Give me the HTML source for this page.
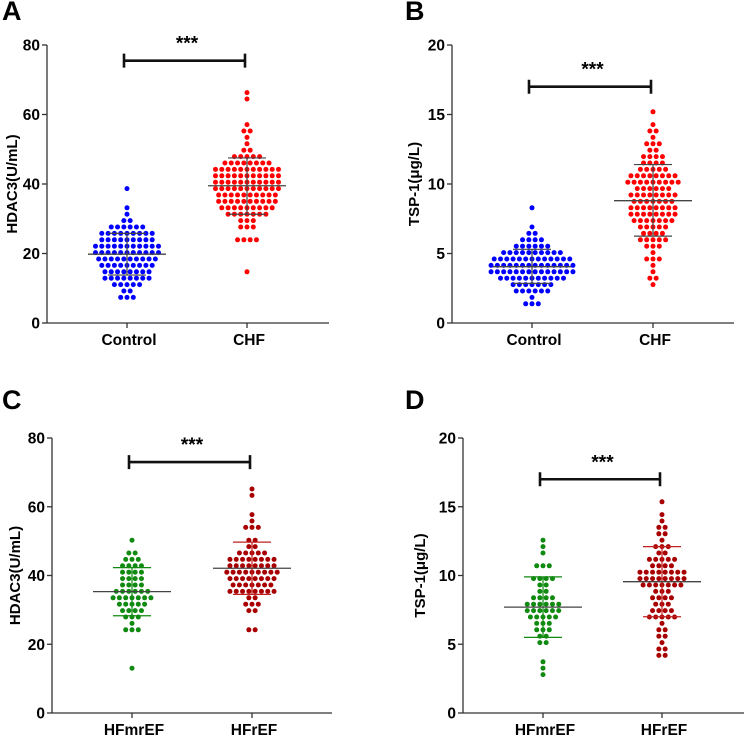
<!DOCTYPE html>
<html><head><meta charset="utf-8">
<style>
html,body{margin:0;padding:0;background:#fff;}
svg{display:block;font-family:"Liberation Sans",Arial,sans-serif;}
</style></head>
<body>
<svg id="fig" width="744" height="736" viewBox="0 0 744 736" xmlns="http://www.w3.org/2000/svg"></svg>
<script>
// ---- data ----
const catsAB = ["Control","CHF"];
const catsCD = ["HFmrEF","HFrEF"];
const ticksHDAC = [0,20,40,60,80];
const ticksTSP = [0,5,10,15,20];
const aControl = [7.2,7.5,7.8,8.3,9.8,10.2,10.5,11,11.3,11.8,12.1,12.4,12.7,13,13.3,13.6,13.9,14.2,14.5,14.8,15.1,15.4,15.7,16,16.3,16.6,16.9,17.2,17.5,17.8,18.1,18.4,18.7,19,19.3,19.6,19.9,20.2,20.5,20.8,21.1,21.4,21.7,22,22.3,22.6,22.9,23.2,23.5,23.8,24.1,24.4,24.7,25,25.3,25.6,25.9,26.2,26.5,26.8,27.1,27.4,28,28.6,29,31.5,32.8,39,15.2,16.1,17,18.2,19.1,20,20.3,21,21.5,22.1,23,24,25.1,26,26.4,27,13.5,14.1,18.8,19.5,20.9,21.9,23.6,24.8,16.5,22.5,27.2,12.8];
const aCHF = [14,23.5,23.5,23.8,24.2,26.8,27.5,28.3,29,29.5,30,30.5,31,31.3,31.6,32,32.3,32.6,33,33.3,33.6,34,34.3,34.6,35,35.3,35.6,35.8,36,36.3,36.6,37,37.3,37.6,38,38.3,38.6,39,39.3,39.6,40,40.3,40.6,41,41.3,41.6,42,42.3,42.6,43,43.3,43.6,44,44.3,44.6,45,45.3,45.6,46,46.3,46.6,47,47.3,47.6,49,49.3,51,54,54.5,55,57.3,64,66,32.5,33.8,35.1,35.4,36.1,36.9,37.4,38.1,38.8,39.1,39.5,40.1,40.5,40.9,41.5,42.1,42.8,43.1,43.9,44.2,45.1,45.8,46.2,47.1,34.1,36.4,38.4,40.2,41.8,43.4,44.8,37.8,39.8,42.4,35.6,33.1,31.8,30.8,46.9,48];
const bControl = [1.5,1.5,1.6,1.9,2.1,2.2,2.35,2.4,2.5,2.6,2.7,2.8,2.85,2.9,3,3.05,3.1,3.2,3.25,3.3,3.35,3.4,3.5,3.55,3.6,3.65,3.7,3.75,3.8,3.85,3.9,3.95,4,4.05,4.1,4.15,4.2,4.25,4.3,4.35,4.4,4.45,4.5,4.55,4.6,4.65,4.7,4.75,4.8,4.85,4.9,4.95,5,5.05,5.1,5.2,5.3,5.4,5.5,5.6,5.8,6,6.1,6.2,6.3,6.5,6.7,8.1,2.9,3.3,3.4,3.8,3.9,4.0,4.1,4.2,4.8,4.9,5.0,5.2,3.6,4.4,4.6,2.6,3.1,4.7,5.4,3.5,4.3,2.4,5.6,4.05,3.75];
const bCHF = [2.9,3.2,3.4,3.5,4.2,4.5,4.8,5,5.3,5.6,5.8,6,6.1,6.3,6.5,6.6,6.8,6.9,7.1,7.2,7.3,7.4,7.5,7.6,7.7,7.8,7.9,8,8.1,8.2,8.3,8.4,8.5,8.6,8.7,8.8,8.9,9,9.1,9.2,9.3,9.4,9.5,9.6,9.7,9.8,9.9,10,10.1,10.2,10.3,10.4,10.5,10.6,10.7,10.8,10.9,11,11.1,11.3,11.5,11.7,11.9,12.1,12.5,12.8,13.1,13.4,13.6,14,14.5,15.3,6.2,6.7,7,7.3,7.5,7.7,7.9,8.1,8.4,8.6,8.9,9.1,9.3,9.6,9.9,10.1,10.3,10.6,11,11.4,11.8,12,12.3,13,5.5,6.4,7.2,8.2,9.4,10.2,10.4,10.8,7.6,9.7,11.2,4.6,5.9,8.8];
const cMr = [13.8,23.3,23.8,24.2,26.8,27.5,28,28.5,29,29.8,30.3,30.8,31.2,31.8,32.2,32.7,33,33.3,33.6,34,34.3,34.8,35.2,35.5,35.8,36.2,36.8,37.3,37.8,38.3,38.8,39.4,39.8,40.3,40.8,41.3,41.8,42.3,42.8,43.4,43.8,44.3,45,45.8,47,49.5,33.1,35.4,31.5,38.1,42.1,29.5];
const cR = [23.5,23.5,29.5,30.3,30.8,31.8,32.5,33.5,34,34.5,35,35.3,35.6,36,36.3,36.6,37,37.3,37.6,38,38.4,38.8,39.2,39.6,40,40.3,40.6,41,41.3,41.6,42,42.3,42.6,43,43.3,43.6,44,44.3,44.6,45,45.3,45.6,46,46.4,46.8,47.2,48,49.3,49.5,51,53.5,54,54.5,55,57.3,64,66,35.8,37.8,39.4,40.2,41.2,42.8,44.1,45.1,38.3,36.8,40.8,43.2,39.8,41.8,34.8,47];
const dMr = [3,3.3,3.5,4.9,5,5.7,5.8,6,6.2,6.4,6.6,6.8,7,7.1,7.2,7.3,7.4,7.5,7.6,7.7,7.8,7.9,8,8.1,8.2,8.4,8.6,8.8,9,9.2,9.5,9.8,9.9,10,10.5,10.6,10.8,11.6,11.9,12.6,7.25,7.55,7.85,6.9,8.3,6.5,5.9,9.85];
const dR = [4.1,4.4,4.6,4.8,5.2,5.5,5.8,6,6.2,6.5,6.8,7,7.2,7.3,7.5,7.6,7.8,8,8.2,8.4,8.6,8.8,9,9.1,9.2,9.3,9.4,9.5,9.6,9.7,9.8,9.9,10,10.1,10.2,10.3,10.4,10.5,10.6,10.8,11,11.2,11.4,11.6,11.8,12,12.3,12.5,12.9,13.2,13.4,13.6,14,14.5,15.3,7.4,8.1,9.05,9.35,9.65,9.95,10.15,10.25,10.45,10.7,11.1,11.3,7.1,8.5,9.25,9.55,10.35,6.9,12.1];
const meansA = [19.8,39.5], lowA = [13.8,31.3], highA = [25.8,47.5];
const meansB = [4.05,8.8], lowB = [2.85,6.25], highB = [5.3,11.4];
const meansC = [35.3,42.1], lowC = [28.3,34.5], highC = [42.3,49.7];
const meansD = [7.7,9.55], lowD = [5.5,7.0], highD = [9.9,12.1];
const sigA = 75.5, sigB = 17, sigC = 73, sigD = 17;

const NS="http://www.w3.org/2000/svg";
const svg=document.getElementById('fig');
function mk(tag,attrs,parent){const e=document.createElementNS(NS,tag);for(const k in attrs)e.setAttribute(k,attrs[k]);(parent||svg).appendChild(e);return e;}

function panel(o){
  const g=mk('g',{});
  
  
  const y=v=>o.y0-(v/o.max)*(o.y0-o.yTop);
  const xs=[o.cx0,o.cx1];
  const L=mk('text',{x:o.lx,y:o.ly,'font-size':27,'font-weight':'bold',fill:'#000'},g);L.textContent=o.letter;
  
  
  const ya=mk('line',{x1:o.ax,y1:o.yTop,x2:o.ax,y2:o.y0,stroke:'#333','stroke-width':1.3},g);
  
  
  const xa=mk('line',{x1:o.ax,y1:o.y0,x2:o.xEnd,y2:o.y0,stroke:'#333','stroke-width':1.3},g);
  
  
  o.ticks.forEach(t=>{
    mk('line',{x1:o.ax-5,y1:y(t),x2:o.ax,y2:y(t),stroke:'#333','stroke-width':1.3},g);
    const tl=mk('text',{x:o.ax-7,y:y(t)+5.5,'font-size':15.5,'font-weight':'bold','text-anchor':'end'},g);tl.textContent=t;
    
    
  });
  o.cats.forEach((c,i)=>{
    mk('line',{x1:xs[i],y1:o.y0,x2:xs[i],y2:o.y0+5,stroke:'#333','stroke-width':1.3},g);
    const cl=mk('text',{x:xs[i]+2,y:o.y0+22,'font-size':15.5,'font-weight':'bold','text-anchor':'middle'},g);cl.textContent=c;
    
    
  });
  const yt=mk('text',{transform:`translate(${o.tx},${(o.y0+o.yTop)/2}) rotate(-90)`,'font-size':15,'font-weight':'bold','text-anchor':'middle'},g);
  yt.textContent=o.title;
  
  
  // beeswarm: snap to rows
  const d=6.4, dx=6.3;
  [o.d0,o.d1].forEach((arr,i)=>{
    const rows={};
    arr.forEach(v=>{const k=Math.round((o.y0-y(v))/d);(rows[k]=rows[k]||[]).push(v);});
    for(const k in rows){
      const r=rows[k];
      r.forEach((v,j)=>{
        const c=mk('circle',{cx:xs[i]+(j-(r.length-1)/2)*dx,cy:o.y0-k*d,r:2.5,fill:o.colors[i]},g);
        
        
      });
    }
  });
  [0,1].forEach(i=>{
    const sc=o.sdColors[i];
    mk('line',{x1:xs[i],y1:y(o.low[i]),x2:xs[i],y2:y(o.high[i]),stroke:sc,'stroke-width':1.2},g);
    mk('line',{x1:xs[i]-19,y1:y(o.low[i]),x2:xs[i]+19,y2:y(o.low[i]),stroke:sc,'stroke-width':1.2},g);
    mk('line',{x1:xs[i]-19,y1:y(o.high[i]),x2:xs[i]+19,y2:y(o.high[i]),stroke:sc,'stroke-width':1.2},g);
    const m=mk('line',{x1:xs[i]-39,y1:y(o.means[i]),x2:xs[i]+39,y2:y(o.means[i]),stroke:'#444','stroke-width':1.3},g);
    
    
  });
  const by=y(o.sig);
  const b=mk('path',{d:`M${xs[0]-3},${by-7}V${by+7}M${xs[0]-3},${by}H${xs[1]-2}M${xs[1]-2},${by-7}V${by+7}`,stroke:'#111','stroke-width':2.6,fill:'none'},g);
  
  
  const s=mk('text',{x:(xs[0]+xs[1])/2,y:by-11,'font-size':19,'font-weight':'bold','text-anchor':'middle'},g);s.textContent='***';
  
  
}
const gray=['#444','#444'];
panel({letter:'A',lx:2,ly:20,ax:47,y0:323,yTop:45,xEnd:329,cx0:127,cx1:247,max:80,ticks:ticksHDAC,cats:catsAB,title:'HDAC3(U/mL)',tx:17,d0:aControl,d1:aCHF,colors:['#0000ff','#ff0000'],sdColors:gray,means:meansA,low:lowA,high:highA,sig:sigA});
panel({letter:'B',lx:405,ly:20,ax:452,y0:323,yTop:45,xEnd:734,cx0:532,cx1:653,max:20,ticks:ticksTSP,cats:catsAB,title:'TSP-1(μg/L)',tx:419,d0:bControl,d1:bCHF,colors:['#0000ff','#ff0000'],sdColors:gray,means:meansB,low:lowB,high:highB,sig:sigB});
panel({letter:'C',lx:2,ly:409,ax:52,y0:713,yTop:438,xEnd:332,cx0:132,cx1:252,max:80,ticks:ticksHDAC,cats:catsCD,title:'HDAC3(U/mL)',tx:20,d0:cMr,d1:cR,colors:['#108a10','#a80000'],sdColors:['#108a10','#c02020'],means:meansC,low:lowC,high:highC,sig:sigC});
panel({letter:'D',lx:405,ly:409,ax:463,y0:713,yTop:438,xEnd:744,cx0:543,cx1:662,max:20,ticks:ticksTSP,cats:catsCD,title:'TSP-1(μg/L)',tx:425,d0:dMr,d1:dR,colors:['#108a10','#a80000'],sdColors:['#108a10','#c02020'],means:meansD,low:lowD,high:highD,sig:sigD});
</script>
</body></html>
